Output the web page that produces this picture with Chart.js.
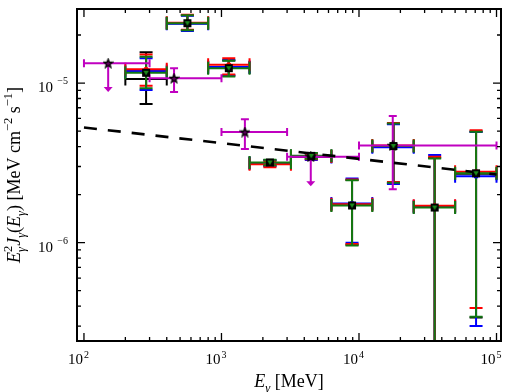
<!DOCTYPE html>
<html>
<head>
<style>
  body { margin: 0; padding: 0; background: #fff; }
  #chart { display: block; }
</style>
<script src="https://cdn.jsdelivr.net/npm/chart.js@4.4.1/dist/chart.umd.min.js"></script>
</head>
<body>
<canvas id="chart" width="510" height="392"></canvas>
<script>
// energy bins, MeV
const binLo = [200, 400, 800, 1600, 3200, 6300, 12500, 25000, 50000];
const binHi = [400, 800, 1600, 3200, 6300, 12500, 25000, 50000, 100000];
const binE  = [283, 565, 1130, 2250, 4500, 8900, 17800, 35500, 71000];

// E^2 J(E) per analysis, with upper/lower ends of the error bars
const greenY  = [1.16e-5, 2.37e-5, 1.24e-5, 3.18e-6, 3.50e-6, 1.71e-6, 4.03e-6, 1.66e-6, 2.72e-6];
const greenUp = [1.46e-5, 2.66e-5, 1.38e-5, 3.31e-6, 3.64e-6, 2.46e-6, 5.58e-6, 3.37e-6, 4.95e-6];
const greenLo = [9.26e-6, 2.14e-5, 1.10e-5, 3.05e-6, 3.36e-6, 9.6e-7, 2.37e-6, 1e-9, 3.43e-7];

const redY  = [1.22e-5, 2.39e-5, 1.30e-5, 3.10e-6, 3.47e-6, 1.74e-6, 4.06e-6, 1.70e-6, 2.78e-6];
const redUp = [1.51e-5, 2.68e-5, 1.43e-5, 3.23e-6, 3.61e-6, 2.49e-6, 5.62e-6, 3.45e-6, 5.07e-6];
const redLo = [9.6e-6, 2.16e-5, 1.13e-5, 2.97e-6, 3.33e-6, 9.8e-7, 2.40e-6, 1e-9, 3.9e-7];

const blueY  = [1.19e-5, 2.35e-5, 1.26e-5, 3.14e-6, 3.44e-6, 1.76e-6, 3.96e-6, 1.69e-6, 2.61e-6];
const blueUp = [1.43e-5, 2.64e-5, 1.39e-5, 3.27e-6, 3.58e-6, 2.52e-6, 5.52e-6, 3.54e-6, 4.93e-6];
const blueLo = [9.04e-6, 2.12e-5, 1.12e-5, 3.01e-6, 3.30e-6, 1.0e-6, 2.33e-6, 1e-9, 3.0e-7];

const blackY  = [1.06e-5, 2.37e-5, 1.25e-5, 3.16e-6, 3.49e-6, 1.72e-6, 4.02e-6, 1.67e-6, 2.70e-6];
const blackUp = [1.56e-5, 2.66e-5, 1.39e-5, 3.29e-6, 3.63e-6, 2.47e-6, 5.56e-6, 3.40e-6, 4.97e-6];
const blackLo = [7.38e-6, 2.14e-5, 1.11e-5, 3.03e-6, 3.35e-6, 9.7e-7, 2.36e-6, 1e-9, 3.4e-7];

// magenta stars (older measurement), upper limits marked
const magE   = [150, 452, 1480, 4460, 17600];
const magELo = [100, 300, 1000, 3000, 10000];
const magEHi = [300, 1000, 3000, 10000, 100000];
const magY   = [1.33e-5, 1.07e-5, 4.93e-6, 3.45e-6, 4.06e-6];
const magUp  = [1.33e-5, 1.24e-5, 5.94e-6, 3.45e-6, 6.21e-6];
const magLo  = [8.8e-6, 8.8e-6, 3.86e-6, 2.26e-6, 2.16e-6];
const magUL  = [true, false, false, true, false];

// power law fit
const fitE = [100, 100000];
const fitY = [5.27e-6, 2.67e-6];

// axes
const xMajor = [1e2, 1e3, 1e4, 1e5];
const xTickLabels = ['2', '3', '4', '5'];
const yMajor = [1e-6, 1e-5];
const yTickLabels = ['\u22126', '\u22125'];
const minorSteps = [2, 3, 4, 5, 6, 7, 8, 9];

const SERIF = '"Liberation Serif", "DejaVu Serif", serif';
function F(size, it) { return (it ? 'italic ' : '') + size + 'px ' + SERIF; }

function pts(xs, ys) { return xs.map((x, i) => ({ x: x, y: ys[i] })); }

// marker: black square with green down-triangle
function squareTri() {
  const c = document.createElement('canvas');
  c.width = 10; c.height = 10;
  const g = c.getContext('2d');
  g.fillStyle = '#000';
  g.fillRect(1, 1, 8, 8);
  g.fillStyle = '#1c8c1c';
  g.beginPath(); g.moveTo(2.3, 3); g.lineTo(7.7, 3); g.lineTo(5, 7.6); g.closePath(); g.fill();
  return c;
}

function star() {
  const c = document.createElement('canvas');
  c.width = 11; c.height = 11;
  const g = c.getContext('2d');
  g.beginPath();
  for (let i = 0; i < 10; i++) {
    const r = i % 2 ? 1.9 : 4.5;
    const a = -Math.PI / 2 + i * Math.PI / 5;
    g.lineTo(5.5 + r * Math.cos(a), 5.8 + r * Math.sin(a));
  }
  g.closePath();
  g.fillStyle = '#600060';
  g.fill();
  g.strokeStyle = '#000';
  g.lineWidth = 1.3;
  g.stroke();
  return c;
}

function errBars(ctx, sx, sy, e, lo, hi, y, yl, yh, color, lw, cap, ul) {
  ctx.strokeStyle = color;
  ctx.fillStyle = color;
  ctx.lineWidth = lw;
  for (let i = 0; i < e.length; i++) {
    const px = sx.getPixelForValue(e[i]), py = sy.getPixelForValue(y[i]);
    const x0 = sx.getPixelForValue(lo[i]), x1 = sx.getPixelForValue(hi[i]);
    const y0 = sy.getPixelForValue(yl[i]), y1 = sy.getPixelForValue(yh[i]);
    ctx.beginPath();
    ctx.moveTo(x0, py); ctx.lineTo(x1, py);
    ctx.moveTo(x0, py - cap); ctx.lineTo(x0, py + cap);
    ctx.moveTo(x1, py - cap); ctx.lineTo(x1, py + cap);
    if (ul && ul[i]) {
      ctx.moveTo(px, py); ctx.lineTo(px, y0 - 4);
      ctx.stroke();
      ctx.beginPath();
      ctx.moveTo(px - 4.5, y0 - 5); ctx.lineTo(px + 4.5, y0 - 5); ctx.lineTo(px, y0); ctx.closePath();
      ctx.fill();
      continue;
    }
    ctx.moveTo(px, y0); ctx.lineTo(px, y1);
    ctx.moveTo(px - cap, y0); ctx.lineTo(px + cap, y0);
    ctx.moveTo(px - cap, y1); ctx.lineTo(px + cap, y1);
    ctx.stroke();
  }
}

function richWidth(ctx, parts) {
  let w = 0;
  for (const p of parts) {
    ctx.font = p.f;
    if (p.stack) {
      p.w = ctx.measureText(p.sup).width;
      ctx.font = p.f2;
      p.w = Math.max(p.w, ctx.measureText(p.sub).width);
    } else {
      p.w = ctx.measureText(p.t).width;
    }
    w += p.w;
  }
  return w;
}

function drawRich(ctx, parts, x, y) {
  for (const p of parts) {
    ctx.font = p.f;
    if (p.stack) {
      ctx.fillText(p.sup, x, y - 8);
      ctx.font = p.f2;
      ctx.fillText(p.sub, x, y + 4.5);
    } else {
      ctx.fillText(p.t, x, y + (p.dy || 0));
    }
    x += p.w;
  }
}

const axesPlugin = {
  id: 'axesPlugin',
  beforeDatasetsDraw(chart) {
    const ctx = chart.ctx, a = chart.chartArea;
    const sx = chart.scales.x, sy = chart.scales.y;
    ctx.save();
    ctx.beginPath();
    ctx.rect(a.left, a.top, a.right - a.left, a.bottom - a.top);
    ctx.clip();
    errBars(ctx, sx, sy, binE, binLo, binHi, blackY, blackLo, blackUp, '#000', 2, 6.5);
    errBars(ctx, sx, sy, binE, binLo, binHi, blueY, blueLo, blueUp, '#0000ff', 2, 6.5);
    errBars(ctx, sx, sy, binE, binLo, binHi, redY, redLo, redUp, '#ff0000', 2, 6.5);
    errBars(ctx, sx, sy, binE, binLo, binHi, greenY, greenLo, greenUp, '#127812', 2, 6.5);
    errBars(ctx, sx, sy, magE, magELo, magEHi, magY, magLo, magUp, '#c000c0', 2, 4, magUL);
    ctx.restore();
  },
  afterDraw(chart) {
    const ctx = chart.ctx, a = chart.chartArea;
    const sx = chart.scales.x, sy = chart.scales.y;
    ctx.save();
    ctx.strokeStyle = '#000';
    // ticks, inward on all four sides
    ctx.lineWidth = 1.3;
    ctx.beginPath();
    xMajor.forEach(v => {
      const px = sx.getPixelForValue(v);
      ctx.moveTo(px, a.bottom); ctx.lineTo(px, a.bottom - 8);
      ctx.moveTo(px, a.top); ctx.lineTo(px, a.top + 8);
      minorSteps.forEach(m => {
        const q = sx.getPixelForValue(v * m);
        if (q < a.right) {
          ctx.moveTo(q, a.bottom); ctx.lineTo(q, a.bottom - 4);
          ctx.moveTo(q, a.top); ctx.lineTo(q, a.top + 4);
        }
      });
    });
    [1e-7].concat(yMajor).forEach(v => {
      const py = sy.getPixelForValue(v);
      if (py <= a.bottom) {
        ctx.moveTo(a.left, py); ctx.lineTo(a.left + 8, py);
        ctx.moveTo(a.right, py); ctx.lineTo(a.right - 8, py);
      }
      minorSteps.forEach(m => {
        const q = sy.getPixelForValue(v * m);
        if (q > a.top && q < a.bottom) {
          ctx.moveTo(a.left, q); ctx.lineTo(a.left + 4, q);
          ctx.moveTo(a.right, q); ctx.lineTo(a.right - 4, q);
        }
      });
    });
    ctx.stroke();
    ctx.lineWidth = 2;
    ctx.strokeRect(a.left, a.top, a.right - a.left, a.bottom - a.top);

    // tick labels
    ctx.fillStyle = '#000';
    ctx.textBaseline = 'alphabetic';
    xMajor.forEach((v, i) => {
      const px = sx.getPixelForValue(v);
      ctx.font = F(15);
      ctx.textAlign = 'right';
      ctx.fillText('10', px - 1, a.bottom + 23);
      ctx.font = F(10);
      ctx.textAlign = 'left';
      ctx.fillText(xTickLabels[i], px, a.bottom + 17);
    });
    yMajor.forEach((v, i) => {
      const py = sy.getPixelForValue(v);
      ctx.font = F(15);
      ctx.textAlign = 'right';
      ctx.fillText('10', a.left - 24, py + 9);
      ctx.font = F(10);
      ctx.fillText(yTickLabels[i], a.left - 9, py + 1);
    });

    // axis titles
    ctx.textAlign = 'left';
    const xt = [
      { t: 'E', f: F(18, true) },
      { t: '\u03b3', f: F(12.5, true), dy: 4.5 },
      { t: ' [MeV]', f: F(18) }
    ];
    const xw = richWidth(ctx, xt);
    drawRich(ctx, xt, (a.left + a.right) / 2 - xw / 2, 387);

    const yt = [
      { t: 'E', f: F(18, true) },
      { stack: true, sup: '2', sub: '\u03b3', f: F(12.5), f2: F(12.5, true) },
      { t: 'J', f: F(18, true) },
      { t: '\u03b3', f: F(12.5, true), dy: 4.5 },
      { t: '(', f: F(18) },
      { t: 'E', f: F(18, true) },
      { t: '\u03b3', f: F(12.5, true), dy: 4.5 },
      { t: ') [MeV cm', f: F(18) },
      { t: '\u22122', f: F(12.5), dy: -8 },
      { t: ' s', f: F(18) },
      { t: '\u22121', f: F(12.5), dy: -8 },
      { t: ']', f: F(18) }
    ];
    const yw = richWidth(ctx, yt);
    ctx.translate(20, (a.top + a.bottom) / 2);
    ctx.rotate(-Math.PI / 2);
    drawRich(ctx, yt, -yw / 2, 0);
    ctx.restore();
  }
};

new Chart(document.getElementById('chart'), {
  type: 'scatter',
  data: {
    datasets: [
      { data: pts(binE, greenY), pointStyle: squareTri(), pointRadius: 5, order: 0 },
      { data: pts(binE, redY), pointStyle: 'circle', pointRadius: 2.5, backgroundColor: '#ff0000', borderColor: '#ff0000', borderWidth: 0, order: 1 },
      { data: pts(binE, blueY), pointStyle: 'rect', pointRadius: 3, backgroundColor: '#0000ff', borderColor: '#0000ff', borderWidth: 0, order: 2 },
      { data: pts(binE, blackY), pointRadius: 0, order: 3 },
      { data: pts(magE, magY), pointStyle: star(), pointRadius: 5, order: 4 },
      { type: 'line', data: pts(fitE, fitY), borderColor: '#000', borderWidth: 2.6, borderDash: [13, 11], pointRadius: 0, fill: false, order: 5 }
    ]
  },
  options: {
    responsive: false,
    animation: false,
    events: [],
    layout: { padding: { left: 77, top: 9, right: 9, bottom: 51 } },
    plugins: { legend: { display: false }, tooltip: { enabled: false } },
    scales: {
      x: { type: 'logarithmic', display: false, min: 89, max: 107800 },
      y: { type: 'logarithmic', display: false, min: 2.42e-7, max: 2.91e-5 }
    }
  },
  plugins: [axesPlugin]
});
</script>
</body>
</html>
